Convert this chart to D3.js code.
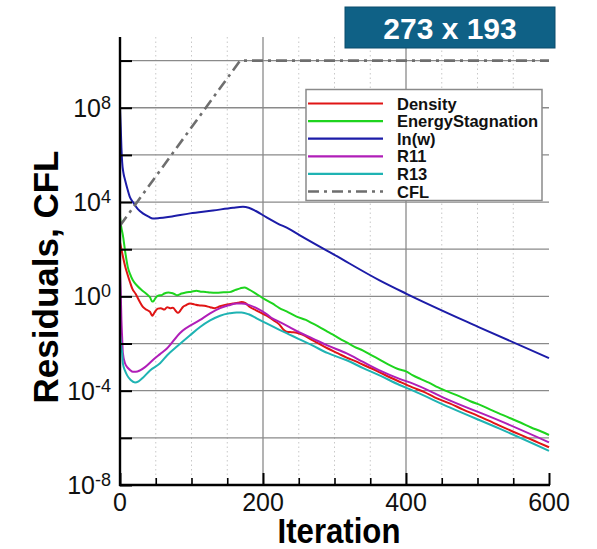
<!DOCTYPE html>
<html><head><meta charset="utf-8">
<script src="https://cdn.jsdelivr.net/npm/d3@7"></script>
<style>
body{margin:0;background:#fff}
svg{display:block}
text{font-family:"Liberation Sans",Arial,Helvetica,sans-serif}
</style>
</head><body>
<svg id="chart" width="597" height="549"></svg>
<script>
// ---------- data ----------
const iterMajorTicks = [0, 200, 400, 600];
const iterMinorTicks = [50, 100, 150, 250, 300, 350, 450, 500, 550];
const yGridExponents = [-6, -4, -2, 0, 2, 4, 6, 8, 10];
const yTickExponents = [-8, -6, -4, -2, 0, 2, 4, 6, 8, 10];
const yLabelExponents = [-8, -4, 0, 4, 8];
const seriesNames = ["Density", "EnergyStagnation", "ln(w)", "R11", "R13", "CFL"];
const titleText = "273 x 193";
const xTitle = "Iteration";
const yTitle = "Residuals, CFL";

// [iteration, log10(value)]
const densityLog = [[0,2.3],[2,2.0],[4,1.7],[7,1.3],[10,0.98],[14,0.6],[17,0.34],[22,0.1],[28,-0.25],[32,-0.45],[38,-0.58],[42,-0.66],[45,-0.82],[47,-0.75],[50,-0.6],[53,-0.52],[57,-0.5],[62,-0.56],[66,-0.46],[70,-0.5],[74,-0.48],[78,-0.62],[81,-0.7],[84,-0.62],[88,-0.45],[92,-0.38],[98,-0.3],[104,-0.34],[110,-0.38],[118,-0.4],[126,-0.46],[132,-0.5],[140,-0.42],[150,-0.34],[158,-0.3],[165,-0.27],[170,-0.24],[175,-0.28],[181,-0.44],[191,-0.6],[205,-0.82],[215,-1.02],[223,-1.2],[229,-1.42],[233,-1.5],[240,-1.52],[247,-1.54],[255,-1.62],[269,-1.86],[290,-2.2],[305,-2.42],[317,-2.6],[330,-2.76],[340,-2.9],[352,-3.06],[363,-3.22],[378,-3.44],[391,-3.62],[409,-3.86],[425,-4.05],[440,-4.28],[461,-4.54],[480,-4.8],[500,-5.06],[515,-5.26],[530,-5.47],[550,-5.74],[570,-6.0],[585,-6.2],[600,-6.4]];
const energyLog = [[0,3.4],[1,3.1],[2,2.9],[4,2.6],[7,1.95],[11,1.23],[14,0.95],[18,0.68],[24,0.45],[31,0.25],[38,0.08],[42,-0.04],[45,-0.22],[47,-0.2],[50,-0.05],[54,0.04],[58,0.05],[62,0.12],[68,0.16],[72,0.14],[76,0.1],[80,0.05],[86,0.12],[92,0.16],[100,0.2],[107,0.24],[113,0.2],[120,0.19],[126,0.16],[135,0.15],[145,0.17],[153,0.18],[162,0.28],[168,0.34],[174,0.38],[180,0.3],[190,0.12],[200,-0.08],[213,-0.3],[223,-0.5],[233,-0.64],[247,-0.86],[260,-1.0],[270,-1.16],[279,-1.3],[290,-1.5],[300,-1.66],[310,-1.84],[317,-1.95],[328,-2.14],[340,-2.3],[352,-2.5],[363,-2.68],[375,-2.88],[391,-3.1],[400,-3.18],[409,-3.34],[420,-3.5],[432,-3.66],[445,-3.86],[461,-4.07],[475,-4.24],[490,-4.45],[505,-4.62],[518,-4.8],[530,-4.96],[545,-5.16],[560,-5.35],[575,-5.56],[590,-5.74],[600,-5.88]];
const lnwLog = [[0,8],[1,7.2],[2,6.3],[3,5.7],[5,5.2],[7,4.95],[10,4.6],[14,4.2],[18,4.0],[25,3.7],[32,3.52],[40,3.38],[46,3.3],[55,3.32],[70,3.38],[98,3.52],[130,3.64],[158,3.76],[172,3.8],[180,3.76],[190,3.62],[205,3.35],[220,3.1],[237,2.85],[251,2.6],[300,1.76],[363,0.68],[400,0.12],[500,-1.28],[600,-2.62]];
const r11Log = [[0,1.0],[1,0.2],[2,-1.0],[3,-1.74],[4,-2.4],[7,-2.84],[10,-3.0],[14,-3.12],[18,-3.2],[22,-3.2],[28,-3.14],[35,-3.0],[46,-2.7],[56,-2.45],[66,-2.2],[84,-1.55],[112,-1.0],[126,-0.72],[140,-0.5],[152,-0.38],[163,-0.3],[170,-0.3],[180,-0.36],[191,-0.5],[205,-0.75],[213,-0.93],[223,-1.08],[237,-1.3],[251,-1.53],[269,-1.78],[290,-2.08],[317,-2.42],[340,-2.78],[363,-3.14],[391,-3.5],[409,-3.69],[461,-4.41],[530,-5.26],[600,-6.19]];
const r13Log = [[0,-1.6],[2,-2.2],[3,-2.4],[4,-2.84],[7,-3.15],[10,-3.35],[15,-3.55],[21,-3.65],[26,-3.6],[32,-3.45],[42,-3.14],[56,-2.84],[66,-2.5],[80,-2.12],[98,-1.65],[112,-1.3],[126,-1.02],[140,-0.82],[153,-0.72],[163,-0.68],[170,-0.68],[180,-0.76],[191,-0.93],[205,-1.15],[223,-1.42],[237,-1.62],[251,-1.82],[269,-2.08],[290,-2.4],[317,-2.71],[340,-3.04],[363,-3.35],[391,-3.76],[409,-3.99],[461,-4.71],[530,-5.6],[600,-6.55]];
const cflLog = [[0,3.0],[168,10],[600,10]];

const seriesData = [densityLog, energyLog, lnwLog, r11Log, r13Log, cflLog];
const seriesColors = ["#e01515", "#1ed41e", "#1c1ca8", "#b01eb8", "#1fb3b3", "#6e6e6e"];

// ---------- chart ----------
const svg = d3.select("#chart");
const x = d3.scaleLinear().domain([0, 600]).range([120, 549]);
const y = d3.scaleLog().domain([1e-8, 1e11]).range([485, 37]);
const plotTop = y(1e11), plotBottom = y(1e-8), plotLeft = x(0), plotRight = x(600);

const grid = svg.append("g");
grid.selectAll("line.minor").data(iterMinorTicks).enter().append("line")
  .attr("x1", d => x(d)).attr("x2", d => x(d)).attr("y1", plotTop).attr("y2", plotBottom)
  .attr("stroke", "#c8c8c8").attr("stroke-width", 1).attr("stroke-dasharray", "1.5,3");
grid.selectAll("line.vmaj").data([200, 400]).enter().append("line")
  .attr("x1", d => x(d)).attr("x2", d => x(d)).attr("y1", plotTop).attr("y2", plotBottom)
  .attr("stroke", "#8a8a8a").attr("stroke-width", 1.3);
grid.selectAll("line.hmaj").data(yGridExponents).enter().append("line")
  .attr("x1", plotLeft).attr("x2", plotRight).attr("y1", d => y(Math.pow(10, d))).attr("y2", d => y(Math.pow(10, d)))
  .attr("stroke", "#8a8a8a").attr("stroke-width", 1.3);

const smoothLine = d3.line().x(d => x(d[0])).y(d => y(Math.pow(10, d[1]))).curve(d3.curveMonotoneX);
const straightLine = d3.line().x(d => x(d[0])).y(d => y(Math.pow(10, d[1])));
seriesData.forEach((data, i) => {
  svg.append("path").datum(data).attr("d", i === 5 ? straightLine : smoothLine).attr("fill", "none")
    .attr("stroke", seriesColors[i]).attr("stroke-width", i === 5 ? 2.6 : 2)
    .attr("stroke-dasharray", i === 5 ? "11,5,3,5" : null)
    .attr("stroke-linejoin", "round");
});

const yAxis = d3.axisLeft(y).tickValues(yTickExponents.map(e => Math.pow(10, e))).tickSize(-12).tickFormat("");
const gy = svg.append("g").attr("transform", `translate(${plotLeft},0)`).call(yAxis);
gy.select(".domain").remove();
gy.selectAll(".tick line").attr("stroke", "#000").attr("stroke-width", 2);

const xAxisMinor = d3.axisBottom(x).tickValues(iterMinorTicks).tickSize(-7).tickFormat("");
const gxm = svg.append("g").attr("transform", `translate(0,${plotBottom})`).call(xAxisMinor);
gxm.select(".domain").remove();
gxm.selectAll(".tick line").attr("stroke", "#000").attr("stroke-width", 1.6);

const xAxis = d3.axisBottom(x).tickValues(iterMajorTicks).tickSize(-12).tickFormat("");
const gx = svg.append("g").attr("transform", `translate(0,${plotBottom})`).call(xAxis);
gx.select(".domain").remove();
gx.selectAll(".tick line").attr("stroke", "#000").attr("stroke-width", 2);

svg.append("line").attr("x1", plotLeft).attr("x2", plotLeft).attr("y1", plotTop).attr("y2", plotBottom + 1)
  .attr("stroke", "#000").attr("stroke-width", 2.4);
svg.append("line").attr("x1", plotLeft - 1).attr("x2", plotRight + 1).attr("y1", plotBottom).attr("y2", plotBottom)
  .attr("stroke", "#000").attr("stroke-width", 2.4);

iterMajorTicks.forEach(v => {
  svg.append("text").attr("x", x(v)).attr("y", 511).attr("text-anchor", "middle")
    .attr("font-size", 25).attr("fill", "#111").text(v);
});
yLabelExponents.forEach(e => {
  const t = svg.append("text").attr("x", 111).attr("y", y(Math.pow(10, e)) + 9)
    .attr("text-anchor", "end").attr("font-size", 25).attr("fill", "#111");
  t.append("tspan").text("10");
  t.append("tspan").attr("dy", -8).attr("font-size", 18).text(e);
});

svg.append("text").attr("transform", "translate(339,543) scale(0.89,1)").attr("text-anchor", "middle")
  .attr("font-size", 35).attr("font-weight", "bold").attr("fill", "#000").text(xTitle);
svg.append("text").attr("transform", "translate(58,277) rotate(-90)").attr("text-anchor", "middle")
  .attr("font-size", 35).attr("font-weight", "bold").attr("fill", "#000").text(yTitle);

const lg = svg.append("g");
lg.append("rect").attr("x", 306).attr("y", 89.5).attr("width", 236).attr("height", 111)
  .attr("fill", "#fff").attr("stroke", "#8a8a8a").attr("stroke-width", 1.5);
seriesNames.forEach((name, i) => {
  const yy = 103.5 + i * 17.6;
  lg.append("line").attr("x1", 308).attr("x2", 383).attr("y1", yy).attr("y2", yy)
    .attr("stroke", seriesColors[i]).attr("stroke-width", i === 5 ? 2.6 : 2.2)
    .attr("stroke-dasharray", i === 5 ? "11,5,3,5" : null);
  lg.append("text").attr("x", 397).attr("y", yy + 6).attr("font-size", 16.5)
    .attr("font-weight", "bold").attr("fill", "#111").text(name);
});

svg.append("rect").attr("x", 345).attr("y", 7).attr("width", 210).attr("height", 41)
  .attr("fill", "#0f6186").attr("stroke", "#0b4d6c").attr("stroke-width", 1);
svg.append("text").attr("x", 450).attr("y", 38.5).attr("text-anchor", "middle")
  .attr("font-size", 30).attr("font-weight", "bold").attr("fill", "#fff").text(titleText);
</script>
</body></html>
